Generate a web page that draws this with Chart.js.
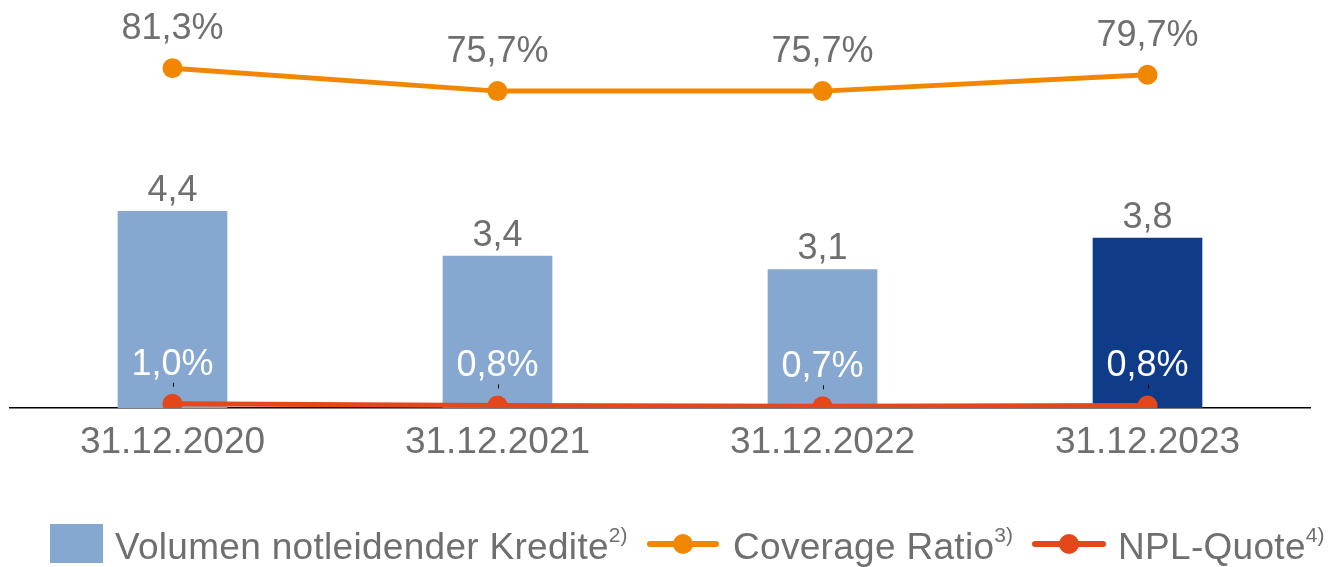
<!DOCTYPE html>
<html lang="de">
<head>
<meta charset="utf-8">
<title>Notleidende Kredite</title>
<script src="https://cdn.jsdelivr.net/npm/chart.js@4.4.1/dist/chart.umd.min.js"></script>
<style>
  body { margin: 0; background: #fff; font-family: "Liberation Sans", Arial, sans-serif; }
  #wrap { position: relative; width: 1330px; height: 567px; }
  #legend { position: absolute; left: 0; top: 524px; width: 1330px; height: 45px; color: #6f6f6f; }
  #legend > span { position: absolute; top: 0; }
  #legend .box { width: 53px; height: 39px; }
  #legend .sym { height: 20px; top: 10px; }
  #legend .sym .ln { position: absolute; left: 0; right: 0; top: 7px; height: 6px; border-radius: 3px; }
  #legend .sym .dot { position: absolute; left: 50%; top: 0; width: 20px; height: 20px; margin-left: -10px; border-radius: 50%; }
  #legend .txt { font-size: 37px; line-height: 45px; white-space: nowrap; letter-spacing: 0.3px; }
  #legend sup { font-size: 21px; position: relative; top: -17px; vertical-align: baseline; line-height: 0; letter-spacing: 0; }
</style>
</head>
<body>
<div id="wrap">
  <canvas id="npl"></canvas>
  <div id="legend"></div>
</div>
<script>
// Stichtage und Werte
const stichtage = ['31.12.2020', '31.12.2021', '31.12.2022', '31.12.2023'];
const volumen = [4.4, 3.4, 3.1, 3.8];          // Mrd. EUR
const coverageRatio = [81.3, 75.7, 75.7, 79.7]; // %
const nplQuote = [1.0, 0.8, 0.7, 0.8];          // %
const legendNames = ['Volumen notleidender Kredite', 'Coverage Ratio', 'NPL-Quote'];
const legendNotes = ['2)', '3)', '4)'];

const GRAU = '#6f6f6f';
const HELLBLAU = '#86a7d0';
const DUNKELBLAU = '#0f3b89';
const ORANGE = '#f18700';
const ROT = '#e4471a';
const FONT = '"Liberation Sans", Arial, sans-serif';

const de = v => v.toFixed(1).replace('.', ',');

// Zahlen über Balken und Punkten
const valueLabels = {
  id: 'valueLabels',
  afterDatasetsDraw(chart) {
    const ctx = chart.ctx;
    ctx.save();
    ctx.font = '36px ' + FONT;
    ctx.textAlign = 'center';
    ctx.textBaseline = 'middle';
    chart.data.datasets.forEach((ds, i) => {
      const meta = chart.getDatasetMeta(i);
      meta.data.forEach((el, j) => {
        const v = ds.data[j];
        if (ds.type === 'bar') {
          ctx.fillStyle = GRAU;
          ctx.fillText(de(v), el.x, el.y - 20);
        } else if (ds.yAxisID === 'yCov') {
          ctx.fillStyle = GRAU;
          ctx.fillText(de(v) + '%', el.x, el.y - 39);
        } else {
          ctx.fillStyle = '#ffffff';
          ctx.fillText(de(v) + '%', el.x, el.y - 39);
          ctx.strokeStyle = '#000';
          ctx.lineWidth = 1;
          ctx.beginPath();
          ctx.moveTo(Math.round(el.x) + 0.5, el.y - 21);
          ctx.lineTo(Math.round(el.x) + 0.5, el.y - 17);
          ctx.stroke();
        }
      });
    });
    ctx.restore();
  }
};

const chart = new Chart(document.getElementById('npl'), {
  data: {
    labels: stichtage,
    datasets: [
      {
        type: 'line',
        label: legendNames[2],
        data: nplQuote,
        yAxisID: 'yNpl',
        borderColor: ROT,
        backgroundColor: ROT,
        borderWidth: 5,
        pointRadius: 10,
        pointBorderWidth: 0,
        tension: 0,
        order: 1
      },
      {
        type: 'line',
        label: legendNames[1],
        data: coverageRatio,
        yAxisID: 'yCov',
        borderColor: ORANGE,
        backgroundColor: ORANGE,
        borderWidth: 5,
        pointRadius: 10,
        pointBorderWidth: 0,
        tension: 0,
        order: 2
      },
      {
        type: 'bar',
        label: legendNames[0],
        data: volumen,
        yAxisID: 'yVol',
        backgroundColor: volumen.map((v, i) => i === volumen.length - 1 ? DUNKELBLAU : HELLBLAU),
        barThickness: 109,
        order: 3
      }
    ]
  },
  options: {
    responsive: true,
    maintainAspectRatio: false,
    animation: false,
    layout: { autoPadding: false, padding: { left: 10, right: 20, top: 0, bottom: 0 } },
    plugins: { legend: { display: false }, tooltip: { enabled: false } },
    scales: {
      x: {
        offset: true,
        grid: { display: false, drawTicks: false },
        border: { display: true, color: '#000', width: 1.5 },
        ticks: { color: GRAU, padding: 13, font: { family: FONT, size: 37 } },
        afterFit(scale) { scale.height = 159; }
      },
      yVol: { display: false, min: 0, max: 9.13 },
      yCov: { display: false, min: -1.5, max: 97.9 },
      yNpl: { display: false, min: 0.5, max: 48.5 }
    }
  },
  plugins: [valueLabels]
});

// Legende mit Fußnotenzeichen
const legend = document.getElementById('legend');
const legendItems = [
  { ds: 2, symLeft: 50, symWidth: 53, textLeft: 115 },
  { ds: 1, symLeft: 647, symWidth: 72, textLeft: 733 },
  { ds: 0, symLeft: 1032, symWidth: 74, textLeft: 1118 }
];
legendItems.forEach((item, k) => {
  const ds = chart.data.datasets[item.ds];
  const sym = document.createElement('span');
  sym.style.left = item.symLeft + 'px';
  sym.style.width = item.symWidth + 'px';
  if (ds.type === 'bar') {
    sym.className = 'box';
    sym.style.background = HELLBLAU;
  } else {
    sym.className = 'sym';
    sym.innerHTML = '<span class="ln" style="background:' + ds.borderColor + '"></span>' +
                    '<span class="dot" style="background:' + ds.borderColor + '"></span>';
  }
  legend.appendChild(sym);

  const txt = document.createElement('span');
  txt.className = 'txt';
  txt.style.left = item.textLeft + 'px';
  txt.textContent = legendNames[k];
  const sup = document.createElement('sup');
  sup.textContent = legendNotes[k];
  txt.appendChild(sup);
  legend.appendChild(txt);
});
</script>
</body>
</html>
